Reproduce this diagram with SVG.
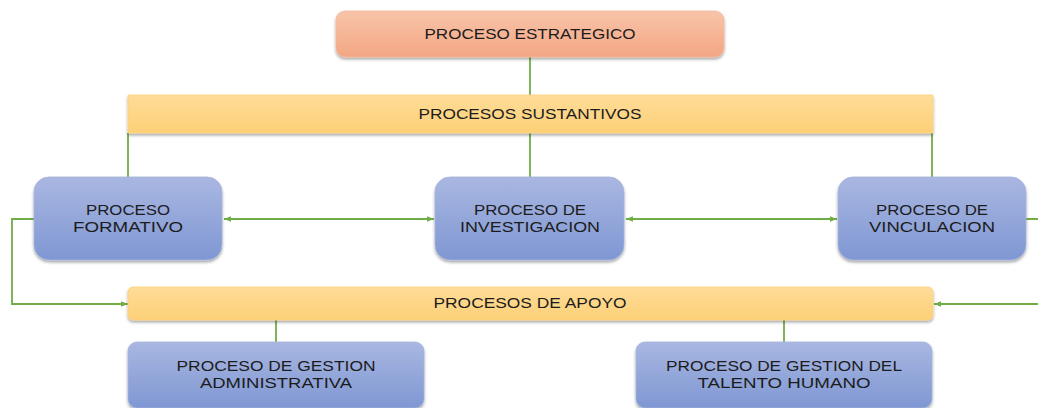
<svg xmlns="http://www.w3.org/2000/svg" width="1038" height="408" viewBox="0 0 1038 408">
<defs>
<linearGradient id="gOrange" x1="0" y1="0" x2="0" y2="1"><stop offset="0" stop-color="#f8c4aa"/><stop offset="1" stop-color="#f3a683"/></linearGradient>
<linearGradient id="gYellow" x1="0" y1="0" x2="0" y2="1"><stop offset="0" stop-color="#fedc98"/><stop offset="1" stop-color="#fdd077"/></linearGradient>
<linearGradient id="gBlue" x1="0" y1="0" x2="0" y2="1"><stop offset="0" stop-color="#a9b7e1"/><stop offset="1" stop-color="#7f97d3"/></linearGradient>
<filter id="sh" x="-5%" y="-10%" width="110%" height="130%"><feDropShadow dx="0" dy="2" stdDeviation="1.5" flood-color="#000" flood-opacity="0.35"/></filter>
<marker id="ah" viewBox="0 0 8 8" refX="8" refY="4" markerWidth="7" markerHeight="7" markerUnits="userSpaceOnUse" orient="auto-start-reverse"><path d="M0,0.8 L8,4 L0,7.2 Z" fill="#70ad47"/></marker>
</defs>
<style>
.t{font-family:"Liberation Sans",Arial,sans-serif;font-size:14.5px;fill:#1c1c1c;text-anchor:middle}
.c{fill:none;stroke:#70ad47;stroke-width:1.8}
.b{fill:url(#gBlue);stroke:#a6b3dc;stroke-width:0.8;filter:url(#sh)}
</style>
<rect width="1038" height="408" fill="#fff"/>
<g id="connectors">
<line class="c" x1="530" y1="57" x2="530" y2="95"/>
<line class="c" x1="128" y1="133" x2="128" y2="178"/>
<line class="c" x1="530" y1="133" x2="530" y2="178"/>
<line class="c" x1="932" y1="133" x2="932" y2="178"/>
<line class="c" x1="224" y1="219" x2="434" y2="219" marker-start="url(#ah)" marker-end="url(#ah)"/>
<line class="c" x1="626" y1="219" x2="837" y2="219" marker-start="url(#ah)" marker-end="url(#ah)"/>
<polyline class="c" points="34,219 12,219 12,304 128,304" marker-end="url(#ah)"/>
<polyline class="c" points="1026,219 1050,219 1050,304 934,304" marker-end="url(#ah)"/>
<line class="c" x1="276" y1="320" x2="276" y2="342"/>
<line class="c" x1="784" y1="320" x2="784" y2="342"/>
</g>
<g id="estrategico">
<rect x="336" y="11" width="388" height="46" rx="9" fill="url(#gOrange)" stroke="#f2b79a" stroke-width="0.8" filter="url(#sh)"/>
<text class="t" x="530" y="39" textLength="211" lengthAdjust="spacingAndGlyphs">PROCESO ESTRATEGICO</text>
</g>
<g id="sustantivos">
<rect x="128" y="95" width="805" height="38" rx="1" fill="url(#gYellow)" stroke="#fbd07e" stroke-width="0.8" filter="url(#sh)"/>
<text class="t" x="530" y="119" textLength="223" lengthAdjust="spacingAndGlyphs">PROCESOS SUSTANTIVOS</text>
</g>
<g id="formativo">
<rect class="b" x="34" y="177" width="188" height="83" rx="15"/>
<text class="t" x="128" y="215" textLength="84" lengthAdjust="spacingAndGlyphs">PROCESO</text>
<text class="t" x="128" y="232" textLength="110" lengthAdjust="spacingAndGlyphs">FORMATIVO</text>
</g>
<g id="investigacion">
<rect class="b" x="435" y="177" width="189" height="83" rx="15"/>
<text class="t" x="530" y="215" textLength="112" lengthAdjust="spacingAndGlyphs">PROCESO DE</text>
<text class="t" x="530" y="232" textLength="140" lengthAdjust="spacingAndGlyphs">INVESTIGACION</text>
</g>
<g id="vinculacion">
<rect class="b" x="838" y="177" width="188" height="83" rx="15"/>
<text class="t" x="932" y="215" textLength="112" lengthAdjust="spacingAndGlyphs">PROCESO DE</text>
<text class="t" x="932" y="232" textLength="126" lengthAdjust="spacingAndGlyphs">VINCULACION</text>
</g>
<g id="apoyo">
<rect x="128" y="287" width="805" height="33" rx="5" fill="url(#gYellow)" stroke="#fbd07e" stroke-width="0.8" filter="url(#sh)"/>
<text class="t" x="530" y="308" textLength="193" lengthAdjust="spacingAndGlyphs">PROCESOS DE APOYO</text>
</g>
<g id="administrativa">
<rect class="b" x="128" y="342" width="296" height="66" rx="9"/>
<text class="t" x="276" y="371" textLength="199" lengthAdjust="spacingAndGlyphs">PROCESO DE GESTION</text>
<text class="t" x="276" y="388" textLength="152" lengthAdjust="spacingAndGlyphs">ADMINISTRATIVA</text>
</g>
<g id="talento">
<rect class="b" x="636" y="342" width="296" height="66" rx="9"/>
<text class="t" x="784" y="371" textLength="236" lengthAdjust="spacingAndGlyphs">PROCESO DE GESTION DEL</text>
<text class="t" x="784" y="388" textLength="173" lengthAdjust="spacingAndGlyphs">TALENTO HUMANO</text>
</g>
</svg>
